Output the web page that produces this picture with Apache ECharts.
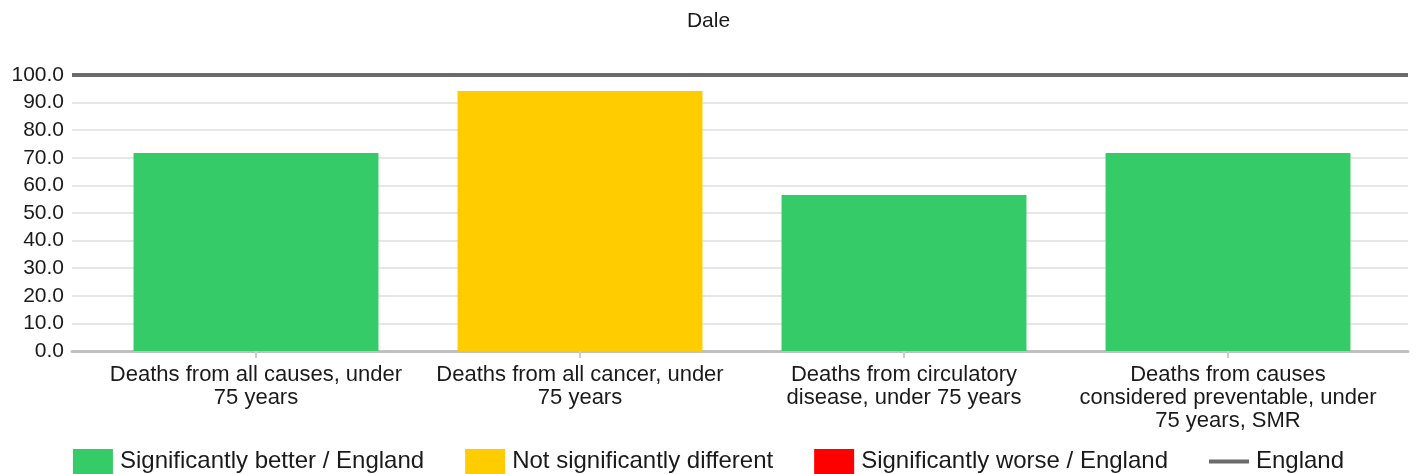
<!DOCTYPE html>
<html>
<head>
<meta charset="utf-8">
<script src="https://cdn.jsdelivr.net/npm/echarts@6/dist/echarts.min.js"></script>
<style>
html,body{margin:0;padding:0;background:#fff;}
#chart{width:1417px;height:474px;}
</style>
</head>
<body>
<div id="chart"></div>
<script>
var title = 'Dale';
var categories = [
  'Deaths from all causes, under\n75 years',
  'Deaths from all cancer, under\n75 years',
  'Deaths from circulatory\ndisease, under 75 years',
  'Deaths from causes\nconsidered preventable, under\n75 years, SMR'
];
var values = [71.7, 94.2, 56.5, 71.7];
var statuses = ['better', 'similar', 'better', 'better'];
var englandValue = 100;
var yTicks = [0, 10, 20, 30, 40, 50, 60, 70, 80, 90, 100];

var groups = [
  {key: 'better', name: 'Significantly better / England', color: '#35cb69'},
  {key: 'similar', name: 'Not significantly different', color: '#ffcc00'},
  {key: 'worse', name: 'Significantly worse / England', color: '#ff0000'}
];

var font = '"Liberation Sans", Arial, sans-serif';
var textColor = '#1a1a1a';

var series = groups.map(function (g) {
  return {
    name: g.name,
    type: 'bar',
    xAxisIndex: 0,
    yAxisIndex: 0,
    barWidth: '75.6%',
    barGap: '-100%',
    itemStyle: {color: g.color},
    data: values.map(function (v, i) { return statuses[i] === g.key ? v : null; })
  };
});
series.push({
  name: 'England',
  type: 'line',
  xAxisIndex: 1,
  yAxisIndex: 1,
  symbol: 'none',
  z: 3,
  lineStyle: {color: '#6b6b6b', width: 4},
  itemStyle: {color: '#6b6b6b'},
  data: [[0, englandValue], [1, englandValue]]
});

var chart = echarts.init(document.getElementById('chart'), null, {renderer: 'canvas'});
chart.setOption({
  animation: false,
  textStyle: {fontFamily: font},
  title: {
    text: title,
    left: 'center',
    top: 6,
    textStyle: {fontSize: 21, fontWeight: 'normal', color: textColor, fontFamily: font}
  },
  legend: {
    top: 444,
    left: 'center',
    itemWidth: 40,
    itemHeight: 25,
    itemGap: 41,
    textStyle: {fontSize: 24, color: textColor, fontFamily: font, padding: [0, 0, 0, 2]},
    data: groups.map(function (g) { return {name: g.name, icon: 'rect'}; }).concat([
      {name: 'England', icon: 'path://M0,0H40V4H0Z', itemStyle: {color: '#6b6b6b'}}
    ])
  },
  grid: [
    {left: 94, right: 27, top: 75, bottom: 123},
    {left: 72, right: 9, top: 75, bottom: 123}
  ],
  xAxis: [
    {
      type: 'category',
      gridIndex: 0,
      data: categories,
      axisLine: {show: false},
      axisTick: {show: true, alignWithLabel: true, length: 7, lineStyle: {color: '#cccccc', width: 2}},
      axisLabel: {interval: 0, fontSize: 22, lineHeight: 23, margin: 12, color: textColor, fontFamily: font},
      splitLine: {show: false}
    },
    {
      type: 'value',
      gridIndex: 1,
      min: 0,
      max: 1,
      axisLine: {show: true, lineStyle: {color: '#c0c0c0', width: 3}},
      axisTick: {show: false},
      axisLabel: {show: false},
      splitLine: {show: false}
    }
  ],
  yAxis: [
    {type: 'value', gridIndex: 0, min: 0, max: 100, interval: 10, show: false, splitLine: {show: false}},
    {
      type: 'value',
      gridIndex: 1,
      min: yTicks[0],
      max: yTicks[yTicks.length - 1],
      interval: 10,
      axisLine: {show: false},
      axisTick: {show: false},
      axisLabel: {
        fontSize: 21, margin: 8, color: textColor, fontFamily: font,
        formatter: function (v) { return v.toFixed(1); }
      },
      splitLine: {show: true, lineStyle: {color: '#e6e6e6', width: 2}}
    }
  ],
  series: series
});
</script>
</body>
</html>
